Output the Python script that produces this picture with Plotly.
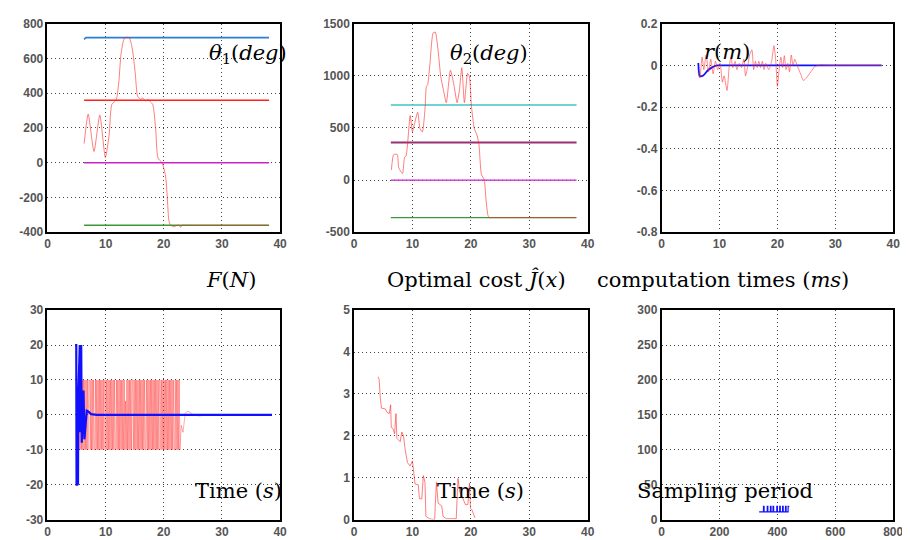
import plotly.graph_objects as go

# ---------------- data ----------------
# theta1 (deg)
th1_t = [6.3, 7.0, 8.0, 9.0, 9.95, 10.6, 11.07, 11.8, 12.25, 12.65, 13.2, 13.6, 14.07, 14.6, 15.1, 15.5,
         16.05, 16.4, 16.9, 17.3, 17.7, 18.1, 18.6, 19.0, 19.7, 20.3, 20.6, 20.85, 21.1, 21.7, 22.2, 22.6, 22.9,
         23.2, 24.0, 25.0, 38.0]
th1_v = [110, 280, 65, 275, 30, 159, 336, 360, 458, 626, 716, 722, 720, 654, 514, 383,
         365, 372, 355, 365, 350, 336, 196, 28, 0, -75, -197, -327, -357, -368, -362, -360, -372,
         -360, -360, -360, -360]
th1_ref_t = [6.3, 6.6, 38.1]
th1_ref_top = [710, 720, 720]
th1_ref_levels = [360, 0, -360]
line_t = [6.3, 38.1]

# theta2 (deg)
th2_t = [6.4, 6.8, 7.4, 7.65, 8.3, 8.66, 8.9, 9.62, 10.0, 10.35, 10.9, 11.3, 11.7, 12.15, 12.4, 12.6, 13.0,
         13.55, 13.9, 14.4, 14.85, 15.3, 15.8, 16.5, 17.1, 17.65, 18.05, 18.45, 18.9, 19.45, 19.75, 20.1,
         20.6, 21.05, 21.4, 21.8, 22.3, 22.6, 22.9, 23.1, 23.6, 24.5, 38.0]
th2_v = [98, 245, 245, 120, 64, 220, 230, 619, 463, 540, 650, 494, 463, 680, 900, 914, 1117,
         1413, 1420, 1241, 993, 867, 743, 1054, 914, 743, 867, 1079, 743, 1023, 993, 712,
         494, 432, 338, 58, 0, -191, -330, -360, -360, -360, -360]
th2_levels = [720, 360, 0, -360]

# r (m)
r_red_t = [6.3, 6.6, 7.0, 7.3, 7.7, 8.1, 8.5, 8.9, 9.3, 9.7, 10.1, 10.5, 10.8, 11.3, 11.7, 12.0, 12.3,
           12.7, 13.0, 13.4, 13.8, 14.2, 14.5, 14.9, 15.2, 15.6, 15.9, 16.2, 16.5, 16.8, 17.1, 17.4,
           17.7, 18.0, 18.5, 19.0, 19.4, 19.7, 20.0, 20.3, 20.6, 20.9, 21.2, 21.5, 21.8, 22.1, 22.4,
           22.7, 23.0, 23.4, 24.0, 24.5, 25.0, 25.8, 26.5, 27.5, 29.0, 31.0, 38.0]
r_red_v = [-0.03, -0.06, 0.04, -0.02, 0.05, -0.03, 0.03, -0.04, 0.02, -0.02, 0.01, -0.08, -0.05, -0.12, 0.0, 0.04, -0.01,
           0.02, -0.02, 0.01, -0.01, 0.03, -0.05, 0.0, 0.05, 0.075, -0.02, 0.02, -0.01, 0.02, -0.01, 0.02,
           -0.02, 0.01, -0.02, 0.02, 0.095, 0.03, -0.10, -0.02, 0.04, -0.01, 0.047, -0.02, 0.01, -0.03, 0.05,
           0.0, 0.03, 0.0, -0.04, -0.072, -0.06, -0.03, -0.005, 0.002, 0.0, 0.0, 0.0]
r_blue_t = [6.35, 6.6, 7.2, 8.0, 8.8, 9.6, 11.0, 13.0, 38.0]
r_blue_v = [0.012, -0.051, -0.048, -0.023, -0.008, 0.0, 0.0, 0.0, 0.0]

# F (N)
f_blue_t = [4.75, 4.95, 5.0, 5.1, 5.15, 5.2, 5.25, 5.3, 5.45, 5.55, 5.6, 5.7, 5.8, 5.9, 6.05, 6.2,
            6.35, 6.5, 6.75, 7.0, 7.5, 8.5, 38.6]
f_blue_v = [20, 20, -20, -20, 0, -20, -20, 5, 20, 20, -5, 20, 20, -8, 5, 7,
            -7, -3, 1.2, 1.0, 0.2, 0, 0]
f_red_t = [5.30, 5.40, 5.52, 5.62, 5.75, 5.85, 5.97, 6.07, 6.20, 6.30,
           6.42, 6.52, 6.65, 6.75, 6.87, 6.97, 7.10, 7.25, 7.35, 7.47,
           7.57, 7.70, 7.80, 7.92, 8.02, 8.15, 8.25, 8.37, 8.47, 8.60,
           8.70, 8.82, 8.92, 9.05, 9.15, 9.27, 9.37, 9.50, 9.60, 9.72,
           9.82, 9.95, 10.05, 10.17, 10.27, 10.40, 10.50, 10.62, 10.72, 10.85,
           10.95, 11.07, 11.17, 11.30, 11.40, 11.52, 11.62, 11.75, 11.85, 11.97,
           12.07, 12.20, 12.30, 12.42, 12.52, 12.65, 12.75, 12.87, 12.97, 13.10,
           13.20, 13.32, 13.42, 13.55, 13.65, 13.77, 13.87, 14.00, 14.10, 14.22,
           14.32, 14.45, 14.55, 14.67, 14.77, 14.90, 15.00, 15.12, 15.22, 15.35,
           15.45, 15.57, 15.67, 15.80, 15.90, 16.02, 16.12, 16.25, 16.35, 16.47,
           16.57, 16.70, 16.80, 16.92, 17.02, 17.15, 17.25, 17.37, 17.47, 17.60,
           17.70, 17.82, 17.92, 18.05, 18.15, 18.27, 18.37, 18.50, 18.60, 18.72,
           18.82, 18.95, 19.05, 19.17, 19.27, 19.40, 19.50, 19.62, 19.72, 19.85,
           19.95, 20.07, 20.17, 20.30, 20.40, 20.52, 20.62, 20.75, 20.85, 20.97,
           21.07, 21.20, 21.30, 21.42, 21.52, 21.65, 21.75, 21.87, 21.97, 22.10,
           22.20, 22.32, 22.42, 22.55, 22.65, 22.78, 22.85, 23.00, 23.30, 23.70,
           24.0, 24.5, 25.0, 26.0, 27.0, 28.0, 38.6]
f_red_v = [8, -10, 10, -10, 10, -10, 10, -10, 10, -10,
           10, -10, 10, -10, 10, -10, 10, 10, -10, 10,
           -10, 10, -10, 10, -10, -10, 10, -10, 10, -10,
           10, -10, 10, -10, 10, -10, 10, -10, 10, -10,
           10, 10, -10, 10, -10, 10, -10, 10, -10, 10,
           -10, 10, -10, 10, -10, 10, -10, -10, 10, -10,
           10, -10, 10, -10, 10, -10, 10, -10, 10, -10,
           10, -10, 4, -10, 10, -10, 10, -10, 10, -10,
           10, -10, 10, 10, -10, 10, -10, 10, -10, 10,
           -10, 10, -10, 10, -10, 10, -10, 10, -10, 10,
           -10, 10, -10, -10, 10, -10, 10, -10, 10, -10,
           10, -10, 10, -10, 10, -10, 10, -10, 10, -10,
           10, -10, 10, -10, 10, 10, -10, 10, -10, 10,
           -10, 10, -10, 10, -10, 10, -10, 10, -10, 10,
           -10, 10, -10, 10, -10, 10, -10, -10, 10, -10,
           10, -10, 10, -10, 10, -10, -8, -3, -5, 0.5,
           1.0, 0.8, 0.1, -0.3, -0.2, 0, 0]

# Optimal cost J(x)
j_t = [4.12, 4.3, 4.5, 4.7, 5.37, 5.65, 6.05, 6.27, 6.38, 6.67, 6.95, 7.18, 7.34, 7.9, 8.19, 8.47,
       8.76, 9.15, 9.6, 10.0, 10.2, 10.45, 11.0, 11.2, 11.6, 11.86, 12.15, 12.3, 12.9, 13.8, 14.1,
       14.4, 15.0, 15.25, 15.8, 17.5, 17.8, 18.1, 18.4, 18.8, 19.1, 19.5, 19.77, 19.94, 20.2, 20.5, 20.7]
j_v = [3.41, 3.35, 2.9, 2.66, 2.64, 2.56, 2.53, 2.74, 2.2, 2.17, 2.05, 2.53, 1.94, 1.86, 2.09, 2.0,
       1.67, 1.36, 1.28, 1.4, 1.16, 0.85, 0.83, 0.5, 0.49, 1.05, 0.89, 0.08, 0.02, 0.0, 0.89,
       0.39, 0.33, 0.08, 0.02, 0.02, 0.98, 0.66, 0.58, 0.47, 0.35, 0.36, 0.87, 0.27, 0.23, 0.12, 0.04]

# computation times (ms)
c_t = [337, 352, 352, 354, 354, 365, 365, 367, 367, 376, 376, 378, 378, 385, 385, 387, 387,
       398, 398, 400, 400, 408, 408, 410, 410, 418, 418, 420, 420, 428, 428, 430, 430, 437, 437, 441]
c_v = [11, 11, 19, 19, 11, 11, 19, 19, 11, 11, 19, 19, 11, 11, 19, 19, 11,
       11, 19, 19, 11, 11, 19, 19, 11, 11, 19, 19, 11, 11, 19, 19, 11, 11, 19, 19]

# tick labels
ticks_time = [0, 10, 20, 30, 40]
ticks_samples = [0, 200, 400, 600, 800]
ticks_th1 = [-400, -200, 0, 200, 400, 600, 800]
ticks_th2 = [-500, 0, 500, 1000, 1500]
ticks_r = [-0.8, -0.6, -0.4, -0.2, 0, 0.2]
ticks_f = [-30, -20, -10, 0, 10, 20, 30]
ticks_j = [0, 1, 2, 3, 4, 5]
ticks_c = [0, 50, 100, 150, 200, 250, 300]

# ---------------- figure ----------------
fig = go.Figure()

def ln(x, y, ax, color, width=1.2, smooth=False):
    line = dict(color=color, width=width)
    if smooth:
        line.update(shape="spline", smoothing=0.6)
    fig.add_trace(go.Scatter(x=x, y=y, mode="lines", xaxis="x" + ax, yaxis="y" + ax,
                             line=line, hoverinfo="skip", showlegend=False))

RED_LIGHT = "rgba(255,40,40,0.6)"

# theta1
ln(th1_ref_t, th1_ref_top, "", "#2a7fd4", 1.6)
ln(line_t, [th1_ref_levels[0]] * 2, "", "#ff2020", 1.6)
ln(line_t, [th1_ref_levels[1]] * 2, "", "#cc22cc", 1.3)
ln(line_t, [th1_ref_levels[2]] * 2, "", "#3a9a3a", 1.6)
ln(th1_t, th1_v, "", RED_LIGHT, 1.0, smooth=True)

# theta2
ln(line_t, [th2_levels[0]] * 2, "2", "#40c4c4", 1.4)
ln(line_t, [th2_levels[1]] * 2, "2", "#9a3070", 2.0)
ln(line_t, [th2_levels[2]] * 2, "2", "#cc22cc", 1.3)
ln(line_t, [th2_levels[3]] * 2, "2", "#3a9a3a", 1.4)
ln(th2_t, th2_v, "2", RED_LIGHT, 1.0, smooth=True)

# r
ln(r_blue_t, r_blue_v, "3", "#1010ff", 1.8, smooth=True)
ln(r_red_t, r_red_v, "3", "rgba(255,40,40,0.55)", 1.0, smooth=True)

# F
ln(f_red_t, f_red_v, "4", "rgba(255,20,20,0.4)", 0.9)
ln(f_blue_t, f_blue_v, "4", "#1010ff", 2.2)

# J
ln(j_t, j_v, "5", RED_LIGHT, 1.0)

# computation time
ln(c_t, c_v, "6", "#1010ff", 1.2)

cols = [[37 / 910, 273 / 910], [348 / 910, 585 / 910], [660 / 910, 895 / 910]]
rows = [[(540 - 223) / 540, (540 - 9) / 540], [(540 - 518) / 540, (540 - 303) / 540]]

def lab(v):
    return "%g" % v

axis_common = dict(showline=True, linecolor="black", linewidth=1.6, mirror=True,
                   showgrid=True, gridcolor="#444444", griddash="1px,3px", gridwidth=1,
                   zeroline=False, ticks="",
                   tickfont=dict(family="Liberation Sans", size=12, color="#555555", weight="bold"))

specs = [
    ("", cols[0], rows[0], [0, 40], ticks_time, [-400, 800], ticks_th1),
    ("2", cols[1], rows[0], [0, 40], ticks_time, [-500, 1500], ticks_th2),
    ("3", cols[2], rows[0], [0, 40], ticks_time, [-0.8, 0.2], ticks_r),
    ("4", cols[0], rows[1], [0, 40], ticks_time, [-30, 30], ticks_f),
    ("5", cols[1], rows[1], [0, 40], ticks_time, [0, 5], ticks_j),
    ("6", cols[2], rows[1], [0, 800], ticks_samples, [0, 300], ticks_c),
]
lay = {}
for ax, xd, yd, xr, xt, yr, yt in specs:
    lay["xaxis" + ax] = dict(axis_common, domain=xd, range=xr, anchor="y" + ax,
                             tickvals=xt, ticktext=[lab(v) for v in xt])
    lay["yaxis" + ax] = dict(axis_common, domain=yd, range=yr, anchor="x" + ax,
                             tickvals=yt, ticktext=[lab(v) for v in yt])

SERIF = "DejaVu Serif"
def ann(text, x, y, size=21):
    return dict(text=text, x=x, y=y, xref="paper", yref="paper", showarrow=False,
                xanchor="center", yanchor="middle", font=dict(family=SERIF, size=size, color="black"))

annotations = [
    ann("<i>θ</i><sub>1</sub>(<i>deg</i>)", 240 / 910, 1 - 40 / 540),
    ann("<i>θ</i><sub>2</sub>(<i>deg</i>)", 485 / 910, 1 - 40 / 540),
    ann("<i>r</i>(<i>m</i>)", 726 / 910, 1 - 38 / 540),
    ann("<i>F</i>(<i>N</i>)", 223 / 910, 1 - 272 / 540),
    ann("Optimal cost <i>Ĵ</i>(<i>x</i>)", 472 / 910, 1 - 272 / 540),
    ann("computation times (<i>ms</i>)", 722 / 910, 1 - 272 / 540),
    ann("Time (<i>s</i>)", 231 / 910, 1 - 489 / 540),
    ann("Time (<i>s</i>)", 476 / 910, 1 - 489 / 540),
    ann("Sampling period", 724 / 910, 1 - 489 / 540),
]

fig.update_layout(width=910, height=540, margin=dict(l=0, r=0, t=0, b=0),
                  paper_bgcolor="white", plot_bgcolor="white", showlegend=False,
                  annotations=annotations, **lay)

fig.write_html("out.html")
